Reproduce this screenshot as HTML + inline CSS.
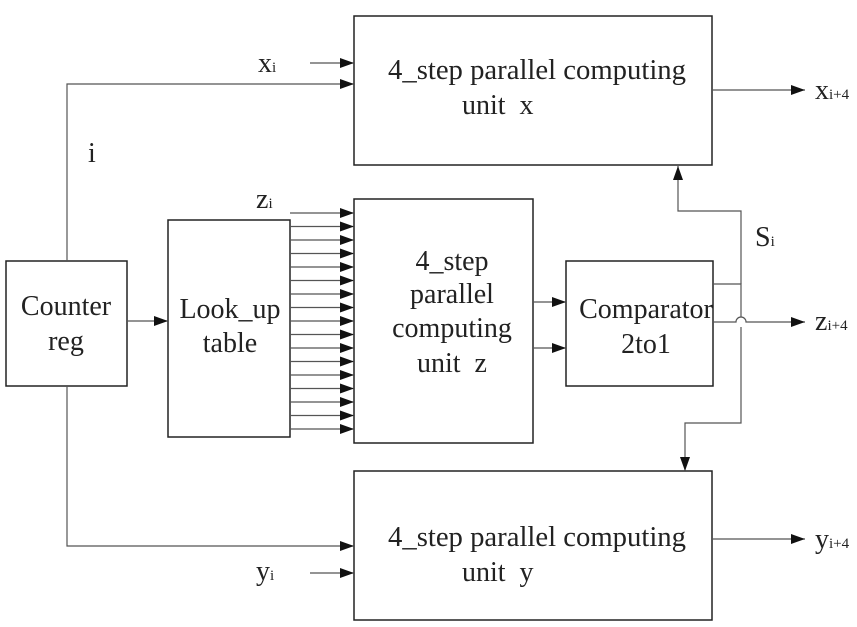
<!DOCTYPE html>
<html><head><style>body{margin:0;background:#fff}svg{display:block}text{font-family:"Liberation Serif",serif;fill:#222}</style></head><body>
<svg width="857" height="627" viewBox="0 0 857 627">
<defs><marker id="a" markerWidth="14" markerHeight="10" refX="14" refY="5" orient="auto" markerUnits="userSpaceOnUse"><path d="M0,0L14,5L0,10z" fill="#111"/></marker></defs>
<g fill="none" stroke="#222" stroke-width="1.5">
<rect x="354" y="16" width="358" height="149"/>
<rect x="354" y="199" width="179" height="244"/>
<rect x="168" y="220" width="122" height="217"/>
<rect x="6" y="261" width="121" height="125"/>
<rect x="566" y="261" width="147" height="125"/>
<rect x="354" y="471" width="358" height="149"/>
</g>
<g fill="none" stroke="#555" stroke-width="1.2" marker-end="url(#a)">
<path d="M310 63H354"/>
<path d="M67 261V84H354"/>
<path d="M67 386V546H354"/>
<path d="M310 573H354"/>
<path d="M127 321H168"/>
<path d="M533 302H566"/>
<path d="M533 348H566"/>
<path d="M712 90H805"/>
<path d="M712 539H805"/>
<path d="M741 284V211H678V166"/>
<path d="M741 327V423H685V471"/>
<path d="M713 322H736A5 5 0 0 1 746 322H805"/>
<path d="M290 213H354"/><path d="M290 226.5H354"/><path d="M290 240H354"/><path d="M290 253.5H354"/><path d="M290 267H354"/><path d="M290 280.5H354"/><path d="M290 294H354"/><path d="M290 307.5H354"/><path d="M290 321H354"/><path d="M290 334.5H354"/><path d="M290 348H354"/><path d="M290 361.5H354"/><path d="M290 375H354"/><path d="M290 388.5H354"/><path d="M290 402H354"/><path d="M290 415.5H354"/><path d="M290 429H354"/>
</g>
<path d="M713 284H741V317" fill="none" stroke="#555" stroke-width="1.2"/>
<g font-size="28">
<text x="388" y="79" textLength="298" lengthAdjust="spacingAndGlyphs">4_step parallel computing</text>
<text x="462" y="114">unit&#160; x</text>
<text x="388" y="546" textLength="298" lengthAdjust="spacingAndGlyphs">4_step parallel computing</text>
<text x="462" y="581">unit&#160; y</text>
<text x="452" y="270" text-anchor="middle">4_step</text>
<text x="452" y="303" text-anchor="middle">parallel</text>
<text x="452" y="337" text-anchor="middle">computing</text>
<text x="452" y="372" text-anchor="middle">unit&#160; z</text>
<text x="230" y="318" text-anchor="middle">Look_up</text>
<text x="230" y="352" text-anchor="middle">table</text>
<text x="66" y="315" text-anchor="middle">Counter</text>
<text x="66" y="350" text-anchor="middle">reg</text>
<text x="646" y="318" text-anchor="middle">Comparator</text>
<text x="646" y="353" text-anchor="middle">2to1</text>
<text x="88" y="162">i</text>
<text x="755" y="246">S<tspan font-size="15">i</tspan></text>
<text x="258" y="72">x<tspan font-size="15">i</tspan></text>
<text x="256" y="208">z<tspan font-size="15">i</tspan></text>
<text x="256" y="580">y<tspan font-size="15">i</tspan></text>
<text x="815" y="99">x<tspan font-size="15">i+4</tspan></text>
<text x="815" y="330">z<tspan font-size="15">i+4</tspan></text>
<text x="815" y="548">y<tspan font-size="15">i+4</tspan></text>
</g>
</svg></body></html>
